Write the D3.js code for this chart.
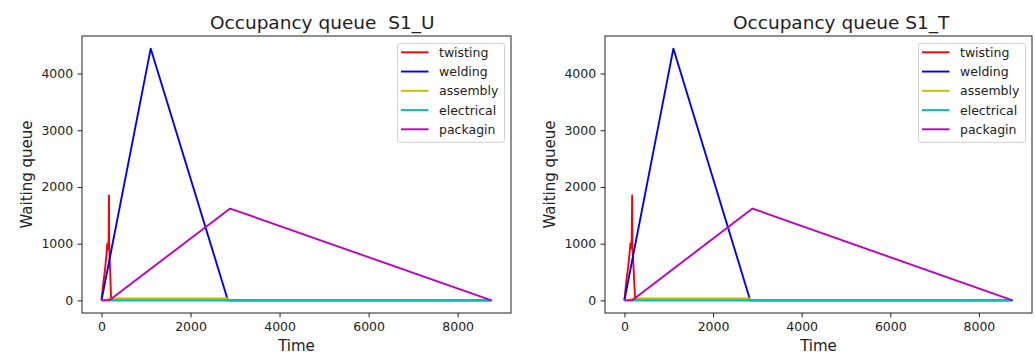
<!DOCTYPE html>
<html lang="en">
<head>
<meta charset="UTF-8">
<title>Occupancy queue</title>
<script src="https://d3js.org/d3.v7.min.js"></script>
<style>
    body { margin: 0; background: #fff; font-family: "DejaVu Sans", sans-serif; }
    svg text { fill: #222; }
</style>
</head>
<body>
<svg width="1035" height="356"></svg>
<script>
// series names and colours (legend order)
const seriesNames = ["twisting", "welding", "assembly", "electrical", "packagin"];
const seriesColors = ["#ff0000", "#0000ff", "#bfbf00", "#00bfbf", "#bf00bf"];

const xTicks = [0, 2000, 4000, 6000, 8000];
const yTicks = [0, 1000, 2000, 3000, 4000];

// S1_U : [time, queue] points
const twistingU = [[0, 0], [40, 300], [80, 550], [110, 800], [130, 1000], [145, 900], [160, 1050], [168, 1850], [172, 1000], [215, 40], [230, 0], [8760, 0]];
const weldingU = [[0, 0], [1105, 4440], [2840, 0], [8760, 0]];
const assemblyU = [[0, 0], [230, 35], [2840, 35], [2860, 0], [8760, 0]];
const electricalU = [[0, 0], [8760, 0]];
const packaginU = [[0, 0], [170, 0], [2890, 1620], [8760, 0]];

// S1_T
const twistingT = [[0, 0], [40, 320], [80, 560], [115, 820], [135, 1000], [150, 920], [165, 1080], [175, 1850], [180, 1000], [240, 40], [255, 0], [8760, 0]];
const weldingT = [[0, 0], [1105, 4440], [2840, 0], [8760, 0]];
const assemblyT = [[0, 0], [250, 35], [2840, 35], [2860, 0], [8760, 0]];
const electricalT = [[0, 0], [8760, 0]];
const packaginT = [[0, 0], [170, 0], [2890, 1620], [8760, 0]];

const svg = d3.select("svg");

function drawPanel(opts) {
    const {x0, x1, y0, y1, title, series} = opts;
    const g = svg.append("g");

    const x = d3.scaleLinear().domain([-438, 9198]).range([x0, x1]);
    const y = d3.scaleLinear().domain([-222, 4662]).range([y1, y0]);

    // axes
    const xAxis = g.append("g")
        .attr("transform", `translate(0,${y1})`)
        .call(d3.axisBottom(x).tickValues(xTicks).tickSize(4.4).tickPadding(4.4).tickFormat(d3.format("d")));
    const yAxis = g.append("g")
        .attr("transform", `translate(${x0},0)`)
        .call(d3.axisLeft(y).tickValues(yTicks).tickSize(4.4).tickPadding(4.4).tickFormat(d3.format("d")));
    [xAxis, yAxis].forEach(a => {
        a.select(".domain").remove();
        a.selectAll("line").attr("stroke", "#222").attr("stroke-width", 1);
        a.selectAll("text").style("font-family", "DejaVu Sans").style("font-size", "12.5px").attr("fill", "#222");
    });

    // lines
    const line = d3.line().x(d => x(d[0])).y(d => y(d[1]));
    const clipId = "clip" + x0;
    g.append("clipPath").attr("id", clipId)
        .append("rect").attr("x", x0).attr("y", y0).attr("width", x1 - x0).attr("height", y1 - y0);
    g.append("g").attr("clip-path", `url(#${clipId})`)
        .selectAll("path")
        .data(series)
        .enter().append("path")
        .attr("d", d => line(d))
        .attr("fill", "none")
        .attr("stroke", (d, i) => seriesColors[i])
        .attr("stroke-width", 1.9)
        .attr("stroke-linejoin", "round");

    // frame
    g.append("rect")
        .attr("x", x0).attr("y", y0)
        .attr("width", x1 - x0).attr("height", y1 - y0)
        .attr("fill", "none").attr("stroke", "#222").attr("stroke-width", 1);

    // title and labels
    g.append("text")
        .attr("x", x0 + 128).attr("y", 29)
        .style("font-size", "18.5px")
        .style("white-space", "pre")
        .text(title);
    g.append("text")
        .attr("x", (x0 + x1) / 2).attr("y", 351)
        .attr("text-anchor", "middle")
        .style("font-size", "15px")
        .text("Time");
    g.append("text")
        .attr("transform", `translate(${x0 - 50},${(y0 + y1) / 2}) rotate(-90)`)
        .attr("text-anchor", "middle")
        .style("font-size", "15px")
        .text("Waiting queue");

    // legend
    const lw = 107, lh = 99;
    const lx = x1 - 6.5 - lw, ly = y0 + 7.3;
    const leg = g.append("g").attr("transform", `translate(${lx},${ly})`);
    leg.append("rect")
        .attr("width", lw).attr("height", lh)
        .attr("rx", 2.5)
        .attr("fill", "#fff").attr("fill-opacity", 0.8)
        .attr("stroke", "#d0d0d0").attr("stroke-width", 1);
    const items = leg.selectAll("g.item")
        .data(seriesNames)
        .enter().append("g")
        .attr("class", "item")
        .attr("transform", (d, i) => `translate(0,${9 + i * 19.25})`);
    items.append("line")
        .attr("x1", 3.5).attr("x2", 31)
        .attr("stroke", (d, i) => seriesColors[i])
        .attr("stroke-width", 1.9);
    items.append("text")
        .attr("x", 41.5).attr("y", 4.5)
        .style("font-size", "12.5px")
        .text(d => d);
}

drawPanel({
    x0: 82, x1: 511, y0: 36, y1: 313,
    title: "Occupancy queue  S1_U",
    series: [twistingU, weldingU, assemblyU, electricalU, packaginU]
});

drawPanel({
    x0: 605, x1: 1032, y0: 36, y1: 313,
    title: "Occupancy queue S1_T",
    series: [twistingT, weldingT, assemblyT, electricalT, packaginT]
});
</script>
</body>
</html>
